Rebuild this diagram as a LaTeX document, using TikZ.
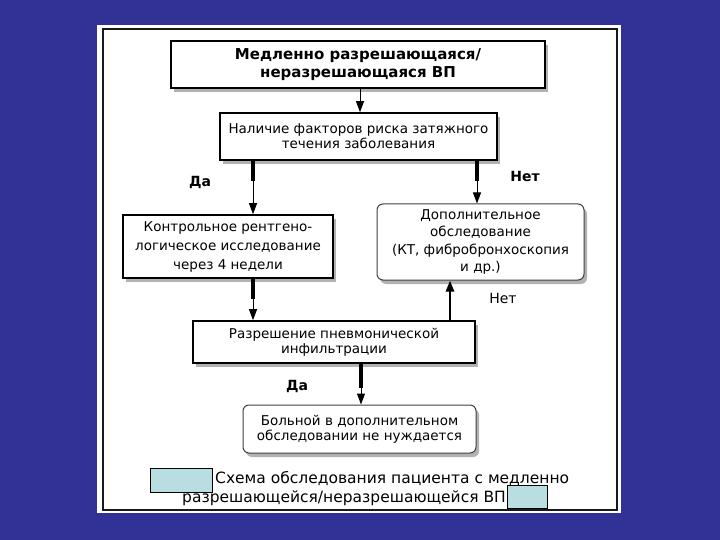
\documentclass[tikz,border=0pt]{standalone}
\usepackage{fontspec}
\setmainfont{DejaVu Sans}
\usetikzlibrary{arrows.meta,shadows}
\definecolor{bgblue}{RGB}{50,50,150}
\definecolor{capblue}{RGB}{184,222,226}
\tikzset{
  sh/.style={drop shadow={shadow xshift=3pt,shadow yshift=-4pt,opacity=0.3,fill=black}},
  sqbox/.style={draw=black,line width=1.6pt,fill=white,sh,align=center,inner sep=2pt,
    font=\fontsize{13.5}{15}\selectfont},
  rdbox/.style={draw=black!75,line width=1pt,fill=white,rounded corners=6pt,sh,align=center,inner sep=2pt,
    font=\fontsize{13.5}{15}\selectfont},
  arr/.style={line width=1pt,-{Triangle[width=8pt,length=11pt]}},
  stub/.style={line width=4pt},
  lbl/.style={font=\fontsize{14}{16}\selectfont},
  blbl/.style={font=\bfseries\fontsize{14}{16}\selectfont},
}
\begin{document}
\begin{tikzpicture}[x=1pt,y=-1pt]
\fill[bgblue] (0,0) rectangle (720,540);
\useasboundingbox (0,0) rectangle (720,540);
\fill[white] (97,25) rectangle (621,513);
\draw[line width=2.2pt,black!90] (103,29) rectangle (617,510);

\node[sqbox,line width=2pt,minimum width=374pt,minimum height=47pt,
  font=\bfseries\fontsize{15}{18}\selectfont] (b1) at (358,64.5)
  {Медленно разрешающаяся/\\неразрешающаяся ВП};
\node[sqbox,minimum width=277pt,minimum height=47pt] (b2) at (358.5,136.5)
  {Наличие факторов риска затяжного\\течения заболевания};
\node[sqbox,minimum width=210pt,minimum height=63pt,font=\fontsize{13.5}{19}\selectfont] (b3) at (228,246.5)
  {Контрольное рентгено-\\логическое исследование\\через 4 недели};
\node[rdbox,minimum width=207pt,minimum height=76pt,font=\fontsize{13.5}{17.3}\selectfont] (b4) at (480.5,242)
  {Дополнительное\\обследование\\(КТ, фибробронхоскопия\\и др.)};
\node[sqbox,minimum width=282pt,minimum height=42pt] (b5) at (334,342)
  {Разрешение пневмонической\\инфильтрации};
\node[rdbox,minimum width=233pt,minimum height=48pt] (b6) at (359.5,429)
  {Больной в дополнительном\\обследовании не нуждается};

% connectors
\draw[arr] (b1.south -| 360,0) -- (b2.north -| 360,0);

\draw[stub] (b2.south -| 253,0) -- ++(0,20);
\draw[arr] (b2.south -| 253,0) -- (b3.north -| 253,0);

\draw[stub] (b2.south -| 477,0) -- ++(0,20);
\draw[arr] (b2.south -| 477,0) -- (b4.north -| 477,0);

\draw[stub] (b3.south -| 253,0) -- ++(0,20);
\draw[arr] (b3.south -| 253,0) -- (b5.north -| 253,0);

\draw[arr,line width=2.5pt] (b5.north -| 450,0) -- (b4.south -| 450,0);

\draw[stub] (b5.south -| 361,0) -- ++(0,24);
\draw[arr] (b5.south -| 361,0) -- (b6.north -| 361,0);

% labels
\node[blbl] (l1) at (200,182) {Да};
\node[blbl] (l2) at (525,176) {Нет};
\node[lbl] (l3) at (503,298) {Нет};
\node[blbl] (l4) at (297,386) {Да};

% caption
\fill[capblue,draw=black,line width=0.6pt] (150,468) rectangle (212,492);
\fill[capblue,draw=black,line width=0.6pt] (507,485) rectangle (547,508);
\node[font=\fontsize{15.5}{18}\selectfont,anchor=west,inner sep=0pt] (c1) at (215,479)
  {Схема обследования пациента с медленно};
\node[font=\fontsize{15.5}{18}\selectfont,anchor=east,inner sep=0pt] (c2) at (506,498)
  {разрешающейся/неразрешающейся ВП};
\end{tikzpicture}
\end{document}
